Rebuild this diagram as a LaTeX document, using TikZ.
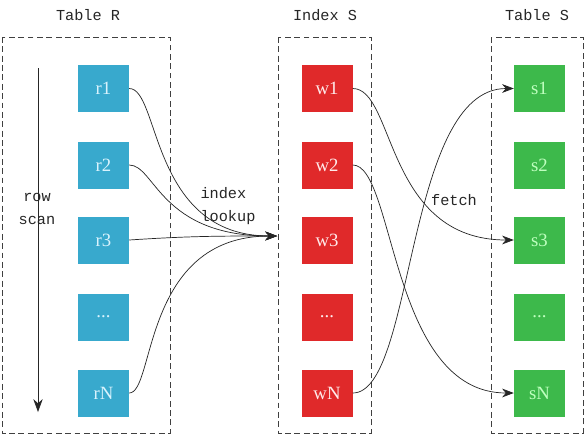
\documentclass[tikz,border=0pt]{standalone}
\usepackage{fontspec}
\setmainfont{Liberation Serif}
\setmonofont{Liberation Mono}
\usepackage{tikz}
\usetikzlibrary{arrows.meta}
\definecolor{rblue}{HTML}{38A9CD}
\definecolor{wred}{HTML}{E0292A}
\definecolor{sgreen}{HTML}{3DB94B}

\begin{document}
\begin{tikzpicture}
[x=0.03cm,y=-0.03cm,
 cell/.style={minimum width=1.53cm,minimum height=1.41cm,inner sep=0pt,font=\fontsize{16}{18}\selectfont},
 rcell/.style={cell,fill=rblue,text=cyan!15},
 wcell/.style={cell,fill=wred,text=red!8},
 scell/.style={cell,fill=sgreen,text=green!25},
 frame/.style={draw=black!75,dash pattern=on 5pt off 3pt,line width=0.6pt},
 lbl/.style={font=\ttfamily\fontsize{13}{19.5}\selectfont,text=black!85},
 link/.style={draw=black!85,line width=0.6pt,-{Stealth[length=10pt,width=7.5pt]}}]
\useasboundingbox[fill=white] (0,0) rectangle (588,443);
\draw[frame] (2,37) rectangle (170,433); \draw[frame] (278,37) rectangle (371,433); \draw[frame] (491,37) rectangle (583,433);
\node[lbl] (tR) at (88,15) {Table R}; \node[lbl] (tIS) at (325,15) {Index S}; \node[lbl] (tS) at (537,15) {Table S};
\node[rcell] (r1) at (103.5,88.5) {r1}; \node[rcell] (r2) at (103.5,165) {r2}; \node[rcell] (r3) at (103.5,240) {r3};
\node[rcell] (rd) at (103.5,317) {...}; \node[rcell] (rN) at (103.5,393) {rN};
\node[wcell] (w1) at (327,88.5) {w1}; \node[wcell] (w2) at (327,165) {w2}; \node[wcell] (w3) at (327,240) {w3};
\node[wcell] (wd) at (327,317) {...}; \node[wcell] (wN) at (327,393) {wN};
\node[scell] (s1) at (539.5,88.5) {s1}; \node[scell] (s2) at (539.5,165) {s2}; \node[scell] (s3) at (539.5,240) {s3};
\node[scell] (sd) at (539.5,317) {...}; \node[scell] (sN) at (539.5,393) {sN};
\coordinate (scanTop) at (38,68); \coordinate (scanEnd) at (38,412); \coordinate (look) at (277,236);
\draw[link,-{Stealth[length=11pt,width=8pt]}] (scanTop) -- (scanEnd);
\node[lbl] (row) at (37,197) {row}; \node[lbl] (scan) at (37,220) {scan};
\node[lbl,align=left] (lookup) at (228,206) {index\\lookup};
\node[lbl] (fetch) at (454,200) {fetch};
\draw[link] (r1.east) .. controls (160,88.5) and (150,236) .. (look);
\draw[link] (r2.east) .. controls (155,165) and (160,236) .. (look);
\draw[link] (r3.east) .. controls (190,236) and (220,236) .. (look);
\draw[link] (rN.east) .. controls (155,393) and (142,236) .. (look);
\draw[link] (w1.east) .. controls (395,88.5) and (385,240) .. (s3.west);
\draw[link] (w2.east) .. controls (395,165) and (390,393) .. (sN.west);
\draw[link] (wN.east) .. controls (415,393) and (405,88.5) .. (s1.west);
\end{tikzpicture}
\end{document}
